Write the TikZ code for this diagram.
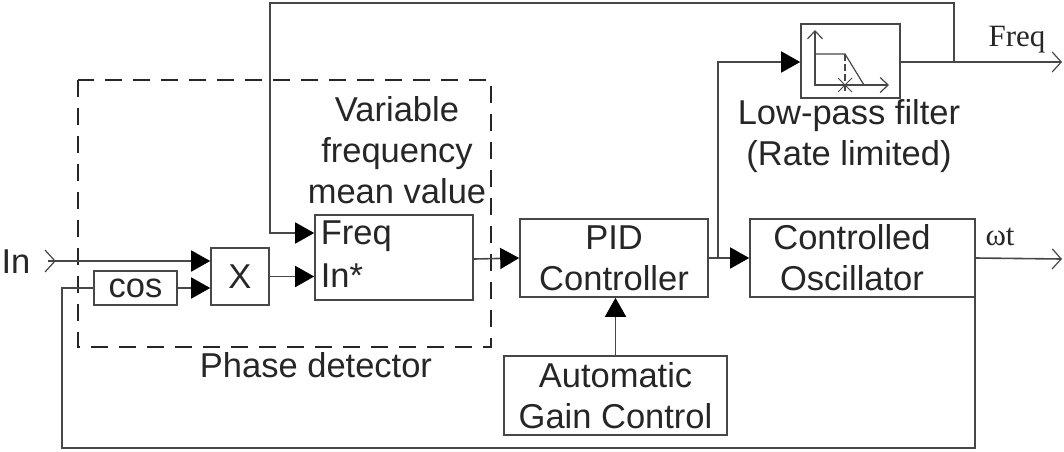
\documentclass[tikz,border=0pt]{standalone}
\usepackage{fontspec}
\setmainfont{Liberation Sans}
\newfontfamily\serifface{Liberation Serif}
\usetikzlibrary{arrows.meta}
\tikzset{x=1pt,y=-1pt,
    every picture/.style={line width=1.6pt,color=black!72},
    every node/.style={font=\fontsize{34.5}{41}\selectfont,align=center,inner sep=0pt},
    block/.style={draw,text=black!85},
    label/.style={text=black!85},
    seriflabel/.style={text=black!85,font=\serifface\fontsize{31}{33}\selectfont},
    wire/.style={-{Triangle[length=19pt,width=21pt,fill=black,color=black]}},
    thinwire/.style={-{Straight Barb[length=9pt,width=20pt,line width=1.2pt]}},
    iconwire/.style={line width=1.2pt,-{Straight Barb[length=8pt,width=15pt]}},
    }
\begin{document}
\begin{tikzpicture}
\useasboundingbox (0,0) rectangle (1064,451);
% blocks
\node[block,minimum width=83pt,minimum height=34pt] (cosine) at (135.5,288) {cos};
\node[block,minimum width=58pt,minimum height=57pt] (mult) at (240,276.5) {X};
\node[block,minimum width=158pt,minimum height=85pt] (mean) at (394,257.5) {};
\node[block,minimum width=188pt,minimum height=78pt] (pid) at (614,258) {PID\\Controller};
\node[block,minimum width=225pt,minimum height=78pt] (osc) at (862.5,258) {};
\node[block,minimum width=223pt,minimum height=79pt] (agc) at (615.5,395.5) {Automatic\\Gain Control};
\node[block,minimum width=99pt,minimum height=74pt] (lpf) at (850.5,61) {};
% labels
\node[label] (osctext) at (852,258) {Controlled\\Oscillator};
\node[label,anchor=west] (freqport) at (320,236) {Freq};
\node[label,anchor=west] (inport) at (320,276) {In*};
\node[label] (meantext) at (397,150) {Variable\\frequency\\mean value};
\node[label] (phasetext) at (316,365) {Phase detector};
\node[label] (lpftext) at (849,136) {Low-pass filter\\(Rate limited)};
\node[label] (intext) at (16,262) {In};
\node[seriflabel] (freqtext) at (1017,40) {Freq};
\node[seriflabel] (wttext) at (1000,237) {ωt};
% free ends
\coordinate (inend) at (48,261);
\coordinate (freqend) at (1062,62);
\coordinate (wtend) at (1062,259);
\coordinate (topright) at (954,3);
\coordinate (topleft) at (270,3);
\coordinate (lowright) at (975,448);
\coordinate (lowleft) at (62,448);
\coordinate (branchtop) at (718,62);
\coordinate (dashA) at (78,80);
\coordinate (dashB) at (491,347);
% phase detector frame
\draw[dashed,dash pattern=on 17pt off 11pt,line width=1.8pt,draw=black!85] (dashA) rectangle (dashB);
% input side
\draw[wire] (inend) -- ([yshift=15.5pt]mult.west);
\draw[line width=1.2pt] (45,250) -- (55,261) -- (45,272);
\draw[wire] (cosine.east) -- ([yshift=-11.5pt]mult.west);
\draw[wire] (mult.east) -- (mult.east -| mean.west);
\draw[wire] ([yshift=-1.5pt]mean.east) -- (pid.west);
\draw[wire] (pid.east) -- (osc.west);
\draw[wire] (agc.north) -- (agc.north |- pid.south);
% filter branch
\draw[wire] (pid.east -| branchtop) -- (branchtop) -- (branchtop -| lpf.west);
\draw[thinwire] (lpf.east |- freqend) -- (freqend);
\draw[wire] (topright |- freqend) -- (topright) -- (topleft) |- ([yshift=24.5pt]mean.west);
% output and feedback
\draw[thinwire] (osc.east) -- (wtend);
\draw (lowright |- osc.east) -- (lowright) -- (lowleft) -- (lowleft |- cosine) -- (cosine.west);
% filter icon
\draw[iconwire] (815,86) -- (815,30);
\draw[iconwire] (815,85) -- (889,85);
\draw[line width=1.2pt] (815,54) -- (845,54) -- (864,85);
\draw[line width=1.2pt,dashed,dash pattern=on 7pt off 3pt] (845,54) -- (845,92);
\draw[line width=1pt] (838,78) -- (852,92) (852,78) -- (838,92);
\end{tikzpicture}
\end{document}
